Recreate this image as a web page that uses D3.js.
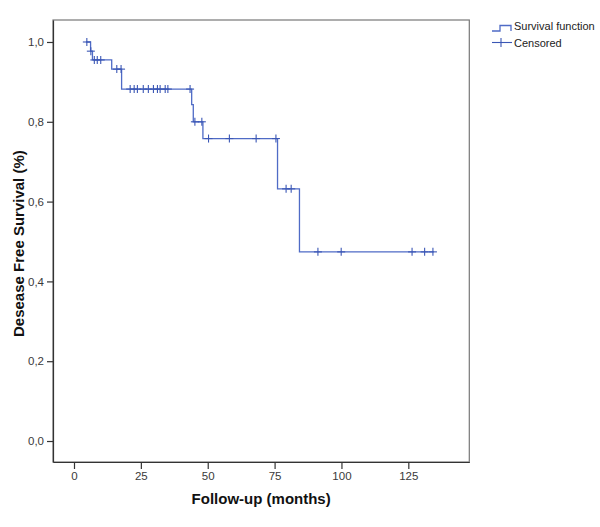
<!DOCTYPE html>
<html>
<head>
<meta charset="utf-8">
<script src="https://cdn.jsdelivr.net/npm/d3@7"></script>
<style>
  html, body { margin: 0; padding: 0; background: #fff; }
  svg { display: block; }
</style>
</head>
<body>
<svg id="chart" width="600" height="527"></svg>
<script>
// ---- data ----
const stepTimes    = [4.5, 6.2, 6.9, 14.1, 17.8, 44.0, 44.6, 48.2, 76.1, 84.3];
const stepSurvival = [1.000, 0.977, 0.955, 0.932, 0.882, 0.843, 0.800, 0.758, 0.632, 0.474];
const lastTime = 134.5;
const censorTimes = [4.8, 6.3, 7.6, 8.7, 10.0, 16.0,
  17.6, 21.0, 22.5, 23.7, 25.9, 27.8, 29.7, 31.2, 32.2, 34.1, 35.1, 43.4,
  45.2, 47.8, 50.3, 58.1, 68.1, 75.5, 79.3, 81.2,
  91.2, 99.9, 126.4, 131.1, 134.2];
const xTicks = [0, 25, 50, 75, 100, 125];
const yTicks = [0, 0.2, 0.4, 0.6, 0.8, 1.0];
const legendLabels = ["Survival function", "Censored"];

// ---- layout ----
const svg = d3.select("#chart");
const L = 53, R = 469.3, T = 20, B = 462;
const x = d3.scaleLinear().domain([-7.85, 147.8]).range([L, R]);
const y = d3.scaleLinear().domain([-0.0526, 1.0551]).range([B, T]);
const lineColor = "#4f6bc6";
const censorColor = "#3b57b5";
const font = "'Liberation Sans', Arial, sans-serif";

// frame
svg.append("rect").attr("x", L).attr("y", T).attr("width", R - L).attr("height", B - T)
  .attr("fill", "none").attr("stroke", "#777").attr("stroke-width", 1.2);

// axes
const xAxis = d3.axisBottom(x).tickValues(xTicks).tickSize(7).tickSizeOuter(0).tickPadding(3)
  .tickFormat(d3.format("d"));
const gx = svg.append("g").attr("transform", `translate(0,${B})`).call(xAxis);
gx.select(".domain").attr("stroke", "#333").attr("stroke-width", 1.2);
gx.selectAll(".tick line").attr("stroke", "#333").attr("stroke-width", 1.2);
gx.selectAll(".tick text").attr("font-family", font).attr("font-size", 11.5).attr("fill", "#3a3a3a");

const yAxis = d3.axisLeft(y).tickValues(yTicks).tickSize(6).tickSizeOuter(0).tickPadding(3)
  .tickFormat(d => d3.format(".1f")(d).replace(".", ","));
const gy = svg.append("g").attr("transform", `translate(${L},0)`).call(yAxis);
gy.select(".domain").attr("stroke", "#333").attr("stroke-width", 1.2);
gy.selectAll(".tick line").attr("stroke", "#333").attr("stroke-width", 1.2);
gy.selectAll(".tick text").attr("font-family", font).attr("font-size", 11.5).attr("fill", "#3a3a3a");

// titles
svg.append("text").attr("x", (L + R) / 2).attr("y", 504).attr("text-anchor", "middle")
  .attr("font-family", font).attr("font-weight", "bold").attr("font-size", 15).attr("fill", "#111")
  .text("Follow-up (months)");
svg.append("text").attr("transform", "translate(24,337) rotate(-90)").attr("text-anchor", "start")
  .attr("font-family", font).attr("font-weight", "bold").attr("font-size", 15).attr("fill", "#111")
  .text("Desease Free Survival (%)");

// survival curve
const pts = stepTimes.map((t, i) => [t, stepSurvival[i]]);
pts.push([lastTime, stepSurvival[stepSurvival.length - 1]]);
const line = d3.line().x(d => x(d[0])).y(d => y(d[1])).curve(d3.curveStepAfter);
svg.append("path").datum(pts).attr("d", line).attr("fill", "none")
  .attr("stroke", lineColor).attr("stroke-width", 1.3);

// censor marks
function survAt(t) {
  let s = stepSurvival[0];
  for (let i = 0; i < stepTimes.length; i++) if (stepTimes[i] <= t) s = stepSurvival[i];
  return s;
}
const cs = 4;
const cg = svg.append("g").attr("stroke", censorColor).attr("stroke-width", 1.1);
censorTimes.forEach(t => {
  const cx = x(t), cy = y(survAt(t));
  cg.append("line").attr("x1", cx - cs).attr("x2", cx + cs).attr("y1", cy).attr("y2", cy);
  cg.append("line").attr("x1", cx).attr("x2", cx).attr("y1", cy - cs).attr("y2", cy + cs);
});

// legend
const lg = svg.append("g");
lg.append("path").attr("d", "M492,31 H500 V25.5 H511 V31").attr("fill", "none")
  .attr("stroke", lineColor).attr("stroke-width", 1.3);
lg.append("line").attr("x1", 492).attr("x2", 512).attr("y1", 42.5).attr("y2", 42.5)
  .attr("stroke", censorColor).attr("stroke-width", 1.1);
lg.append("line").attr("x1", 501).attr("x2", 501).attr("y1", 38).attr("y2", 47)
  .attr("stroke", censorColor).attr("stroke-width", 1.1);
legendLabels.forEach((lab, i) => {
  lg.append("text").attr("x", 514).attr("y", 30 + i * 16.5)
    .attr("font-family", font).attr("font-size", 11).attr("fill", "#222").text(lab);
});
</script>
</body>
</html>
